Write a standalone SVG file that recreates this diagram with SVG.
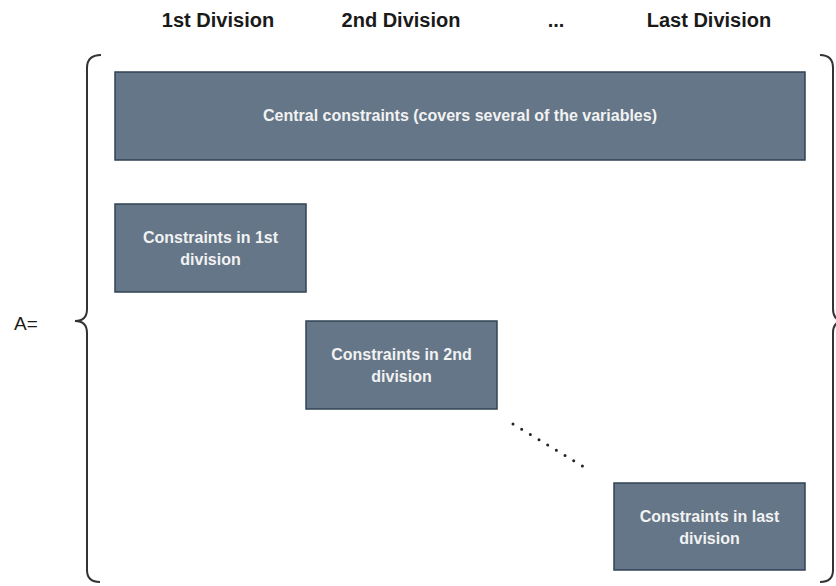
<svg xmlns="http://www.w3.org/2000/svg" width="836" height="586" viewBox="0 0 836 586">
<style>
.box{fill:#647687;stroke:#314354;stroke-width:1.5}
.bt{font-family:"Liberation Sans",Arial,sans-serif;font-size:16px;font-weight:bold;fill:#f2f2f2;text-anchor:middle}
.hd{font-family:"Liberation Sans",Arial,sans-serif;font-size:20px;font-weight:bold;fill:#1a1a1a;text-anchor:middle}
.br{fill:none;stroke:#333;stroke-width:2}
</style>
<rect width="836" height="586" fill="#fff"/>
<g id="headers">
<text class="hd" x="218" y="27">1st Division</text>
<text class="hd" x="401" y="27">2nd Division</text>
<text class="hd" x="556" y="27">...</text>
<text class="hd" x="709" y="27">Last Division</text>
</g>
<g id="label-A"><text x="14" y="330" style="font-family:'Liberation Sans',Arial,sans-serif;font-size:19px;fill:#1a1a1a">A=</text></g>
<g id="brace-left"><path class="br" d="M101,55 Q87,55 87,68 L87,309 Q87,321 75,321 Q87,321 87,333 L87,570 Q87,582 100,582"/></g>
<g id="brace-right"><path class="br" d="M820,55 Q833,55 833,68 L833,309 Q833,321 845,321 Q833,321 833,333 L833,570 Q833,582 820,582"/></g>
<g id="central"><rect class="box" x="115" y="72" width="690" height="88"/><text class="bt" x="460" y="121">Central constraints (covers several of the variables)</text></g>
<g id="div1"><rect class="box" x="115" y="204" width="191" height="88"/><text class="bt" x="210.5" y="243">Constraints in 1st</text><text class="bt" x="210.5" y="265">division</text></g>
<g id="div2"><rect class="box" x="306" y="321" width="191" height="88"/><text class="bt" x="401.5" y="360">Constraints in 2nd</text><text class="bt" x="401.5" y="382">division</text></g>
<g id="divlast"><rect class="box" x="614" y="483" width="191" height="87"/><text class="bt" x="709.5" y="522">Constraints in last</text><text class="bt" x="709.5" y="544">division</text></g>
<g id="connectors"><path d="M513,424 L584,467" fill="none" stroke="#222" stroke-width="3" stroke-linecap="round" stroke-dasharray="0 10.14"/></g>
</svg>
